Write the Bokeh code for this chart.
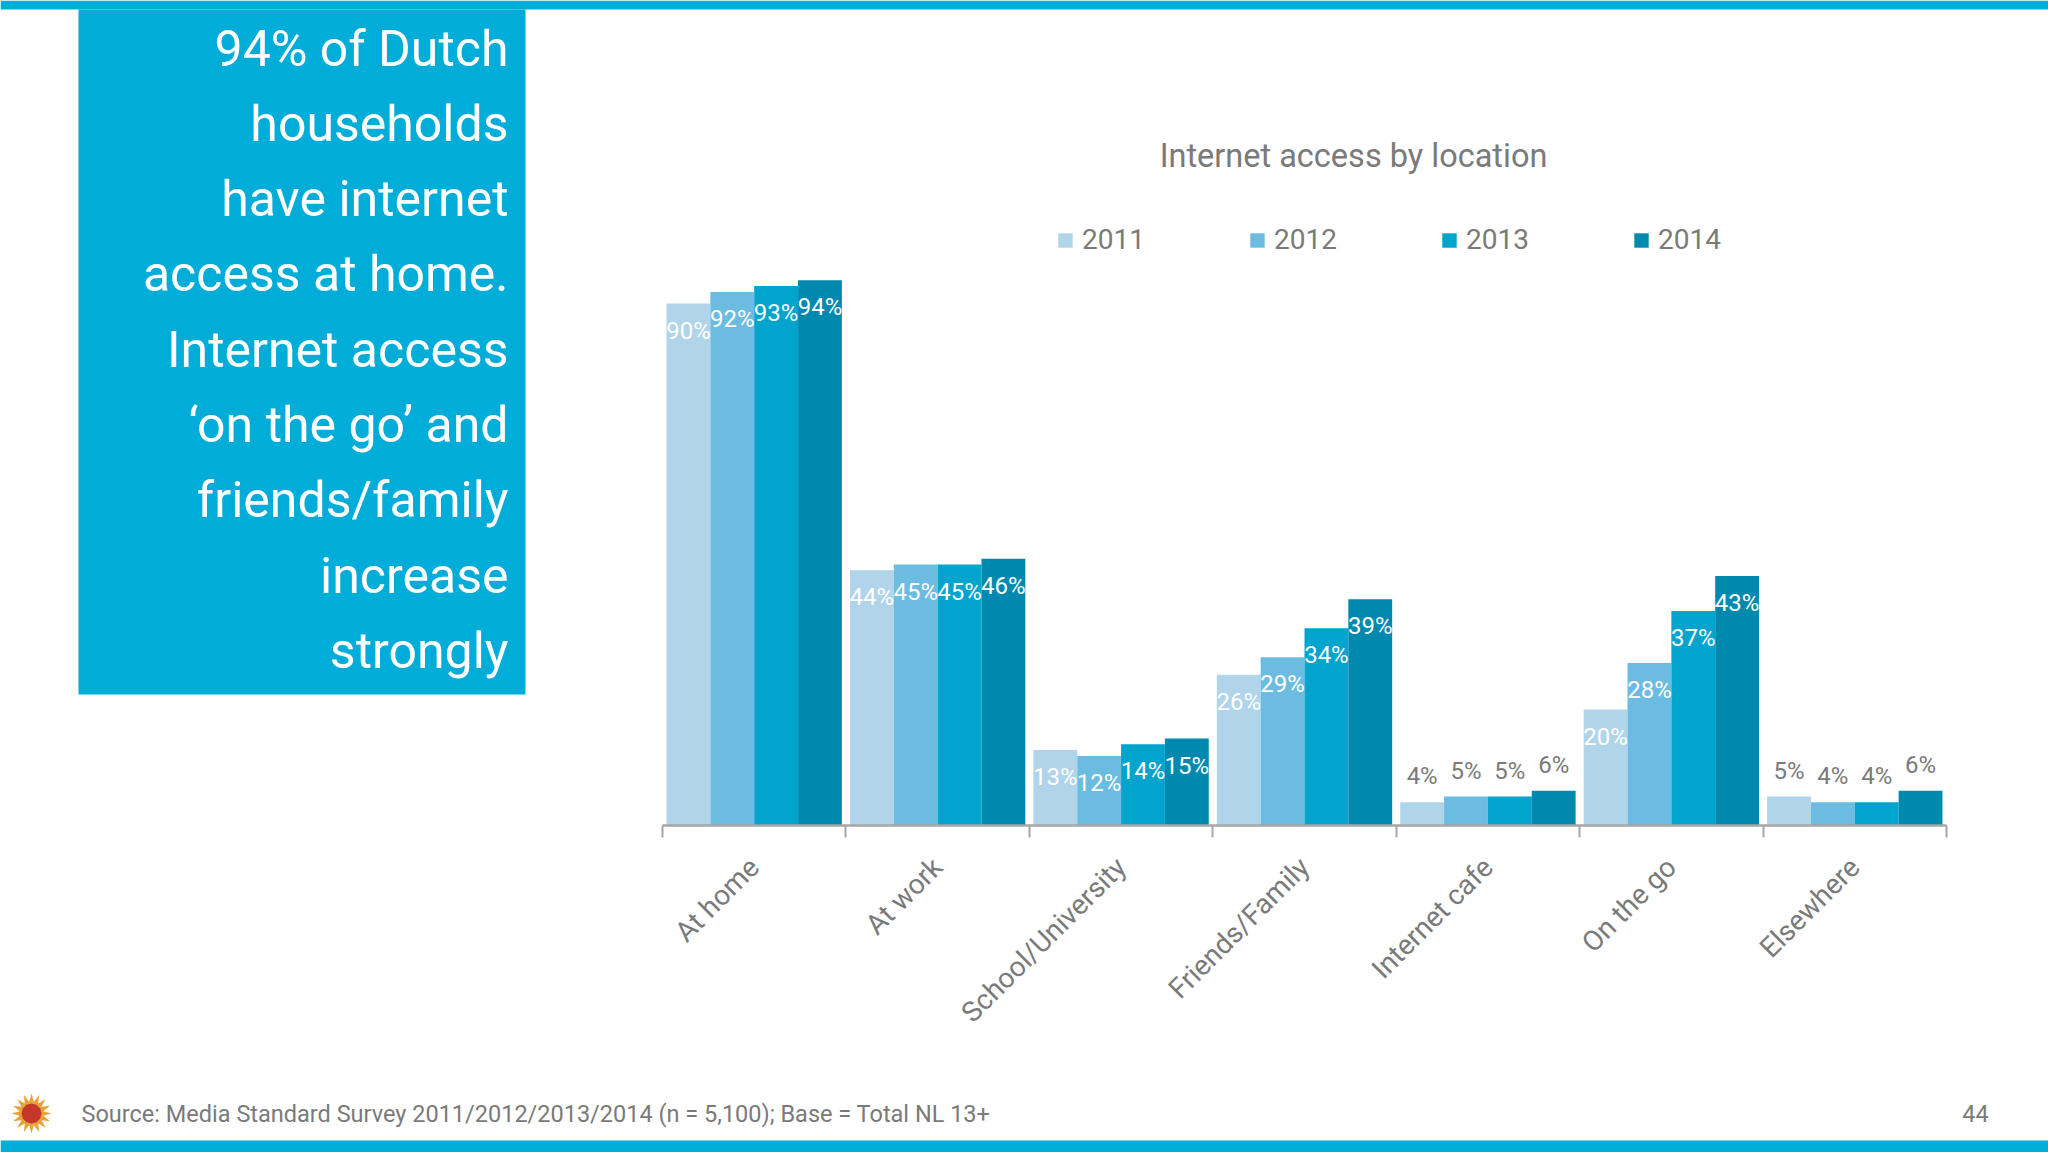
import math
from bokeh.plotting import figure
from bokeh.layouts import column
from bokeh.models import (Range1d, FixedTicker, Label, BoxAnnotation, PolyAnnotation,
                          Legend, LegendItem, ColumnDataSource)
from bokeh.core.properties import value
from bokeh.embed import file_html
from bokeh.resources import INLINE

# ---------------- data ----------------
categories = ["At home", "At work", "School/University", "Friends/Family",
              "Internet cafe", "On the go", "Elsewhere"]
years = ["2011", "2012", "2013", "2014"]
y2011 = [90, 44, 13, 26, 4, 20, 5]
y2012 = [92, 45, 12, 29, 5, 28, 4]
y2013 = [93, 45, 14, 34, 5, 37, 4]
y2014 = [94, 46, 15, 39, 6, 43, 6]
series = [y2011, y2012, y2013, y2014]
colors = ["#b0d5ea", "#6cbce2", "#00a4cd", "#0089ae"]

headline = ["94% of Dutch", "households", "have internet", "access at home.",
            "Internet access", "\u2018on the go\u2019 and", "friends/family",
            "increase", "strongly"]
chart_title = "Internet access by location"
source_note = "Source: Media Standard Survey 2011/2012/2013/2014 (n =  5,100); Base = Total NL 13+"
page_number = "44"

# ---------------- layout ----------------
W = 2048
H_MAIN, H_FOOT = 1090, 62
BASE = 825                 # canvas y of the category axis
X0, X1 = 662, 1946         # canvas x span of the 7 category slots
PX_PER_PCT = 5.80
FONT = "Roboto"
GREY = "#7a7a7a"
BLUE = "#00acd8"

slot = (X1 - X0) / len(categories)


def sx(x):  # canvas x -> frame-relative screen x
    return x


def sy(y):  # canvas y -> frame-relative screen y (upwards from frame bottom)
    return BASE - y


p = figure(width=W, height=H_MAIN, output_backend="svg", toolbar_location=None,
           x_range=Range1d(-X0 / slot, len(categories) + (W - X1) / slot),
           y_range=Range1d(0, BASE / PX_PER_PCT),
           y_axis_location=None,
           min_border_left=0, min_border_right=0, min_border_top=0,
           min_border_bottom=H_MAIN - BASE,
           background_fill_color="white", border_fill_color="white",
           outline_line_color=None)
p.xgrid.visible = False
p.ygrid.visible = False

# ---------------- slide decorations (behind the chart) ----------------
p.add_layout(BoxAnnotation(left=sx(0), right=sx(W), top=sy(0), bottom=sy(9),
                           left_units="screen", right_units="screen",
                           top_units="screen", bottom_units="screen",
                           fill_color=BLUE, fill_alpha=1, line_color=None))
p.add_layout(BoxAnnotation(left=sx(78), right=sx(525), top=sy(9), bottom=sy(694),
                           left_units="screen", right_units="screen",
                           top_units="screen", bottom_units="screen",
                           fill_color=BLUE, fill_alpha=1, line_color=None))
for k, line in enumerate(headline):
    p.add_layout(Label(x=sx(508), y=sy(48 + k * 75.3), x_units="screen", y_units="screen",
                       text=line, text_align="right", text_baseline="alphabetic",
                       text_font=FONT, text_font_size="50px", text_color="white"))

# ---------------- bars ----------------
bw = 0.239
renderers = []
in_x, in_y, in_t = [], [], []
out_x, out_y, out_t = [], [], []
for j, (yr, vals, col) in enumerate(zip(years, series, colors)):
    xs = [i + 0.5 + (j - 1.5) * bw for i in range(len(categories))]
    src = ColumnDataSource(dict(x=xs, top=vals))
    r = p.vbar(x="x", top="top", width=bw, source=src, fill_color=col,
               line_color=None)
    renderers.append(r)
    for x, v in zip(xs, vals):
        if v >= 10:
            in_x.append(x); in_y.append(v); in_t.append(f"{v}%")
        else:
            out_x.append(x); out_y.append(v); out_t.append(f"{v}%")

p.text(x=in_x, y=in_y, text=in_t, text_align="center", text_baseline="middle",
       y_offset=27, text_color="white", text_font=value(FONT),
       text_font_size="24px")
p.text(x=out_x, y=out_y, text=out_t, text_align="center", text_baseline="middle",
       y_offset=-26, text_color=GREY, text_font=value(FONT),
       text_font_size="24px")

# ---------------- axis ----------------
ax = p.xaxis[0]
ax.bounds = (0, len(categories))
ax.ticker = FixedTicker(ticks=[i + 0.5 for i in range(len(categories))],
                        minor_ticks=list(range(len(categories) + 1)))
ax.major_label_overrides = {i + 0.5: c for i, c in enumerate(categories)}
ax.major_label_orientation = math.pi / 4
ax.major_tick_in = 0
ax.major_tick_out = 0
ax.minor_tick_in = 0
ax.minor_tick_out = 12
ax.minor_tick_line_color = "#a6a6a6"
ax.minor_tick_line_width = 2
ax.axis_line_color = "#a6a6a6"
ax.axis_line_width = 2.5
ax.major_label_text_font = FONT
ax.major_label_text_font_size = "28px"
ax.major_label_text_color = GREY
ax.major_label_standoff = 25

# ---------------- legend ----------------
legend = Legend(items=[LegendItem(label=yr, renderers=[r]) for yr, r in zip(years, renderers)],
                orientation="horizontal", location=(sx(1056), sy(256)),
                glyph_width=18, glyph_height=18, label_standoff=8, spacing=102,
                label_width=64, padding=0, margin=0, border_line_color=None,
                background_fill_alpha=0, label_text_font=FONT,
                label_text_font_size="28px", label_text_color=GREY)
p.add_layout(legend)

# ---------------- title ----------------
p.add_layout(Label(x=sx(1353), y=sy(155), x_units="screen", y_units="screen",
                   text=chart_title, text_align="center", text_baseline="middle",
                   text_font=FONT, text_font_size="32.5px", text_color=GREY))

# ---------------- footer ----------------
f = figure(width=W, height=H_FOOT, output_backend="svg", toolbar_location=None,
           x_range=Range1d(0, W), y_range=Range1d(H_FOOT, 0),
           x_axis_location=None, y_axis_location=None, min_border=0,
           background_fill_color="white", border_fill_color="white",
           outline_line_color=None)
f.xgrid.visible = False
f.ygrid.visible = False
FY = 1090  # canvas y of footer top

f.add_layout(BoxAnnotation(left=0, right=W, top=1140 - FY, bottom=H_FOOT,
                           fill_color=BLUE, fill_alpha=1, line_color=None))
f.add_layout(Label(x=81, y=1113 - FY, text=source_note, text_align="left",
                   text_baseline="middle", text_font=FONT, text_font_size="23.5px",
                   text_color=GREY))
f.add_layout(Label(x=1975, y=1113 - FY, text=page_number, text_align="center",
                   text_baseline="middle", text_font=FONT, text_font_size="23.5px",
                   text_color=GREY))

cx, cy = 31, 1113 - FY
pts = 16
star_x, star_y = [], []
for k in range(pts * 2):
    rad = 20 if k % 2 == 0 else 12
    a = math.pi * k / pts
    star_x.append(cx + rad * math.cos(a))
    star_y.append(cy + rad * math.sin(a))
f.add_layout(PolyAnnotation(xs=star_x, ys=star_y, fill_color="#e8a23a", fill_alpha=1,
                            line_color=None))
ring_x = [cx + 10 * math.cos(2 * math.pi * k / 12) for k in range(12)]
ring_y = [cy + 10 * math.sin(2 * math.pi * k / 12) for k in range(12)]
f.add_layout(PolyAnnotation(xs=ring_x, ys=ring_y, fill_color="#c4372a", fill_alpha=1,
                            line_color=None))

page = column(p, f, spacing=0)
open("out.html", "w").write(file_html(page, INLINE))
